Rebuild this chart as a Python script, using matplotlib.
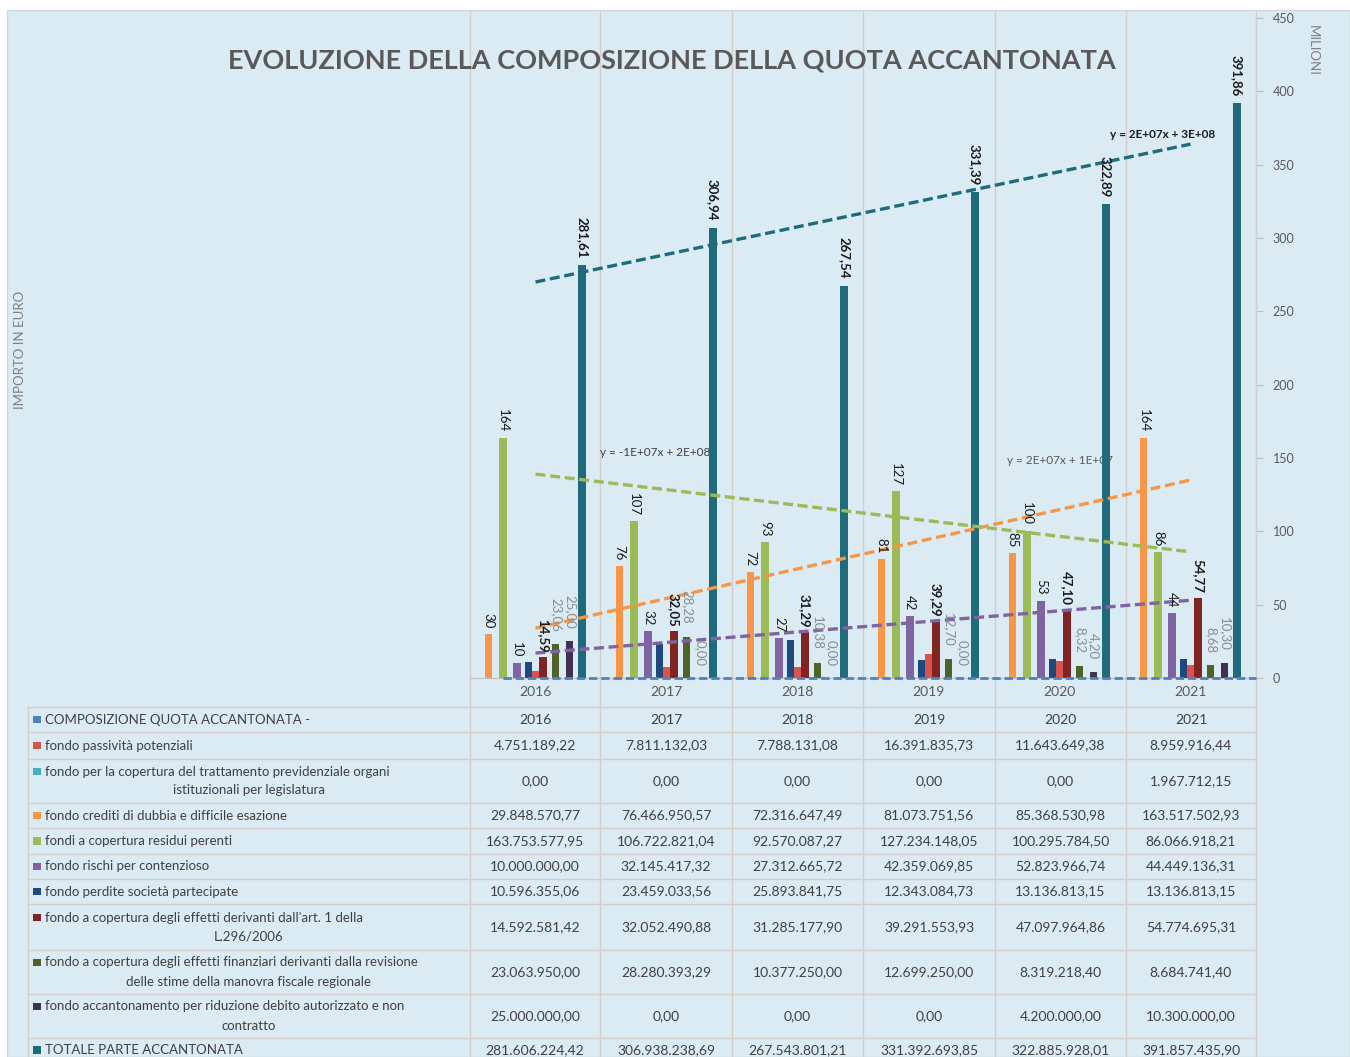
#!/usr/bin/env python3
"""Evoluzione della composizione della quota accantonata: Excel-style bars + data table."""
import matplotlib
matplotlib.use("Agg")
import matplotlib.pyplot as plt
from matplotlib.patches import Rectangle

plt.rcParams["font.family"] = ["Lato", "DejaVu Sans"]

W, H = 1350, 1057

YEARS = ["2016", "2017", "2018", "2019", "2020", "2021"]
PASSIVITA = [4751189.22, 7811132.03, 7788131.08, 16391835.73, 11643649.38, 8959916.44]
PREVIDENZIALE = [0.0, 0.0, 0.0, 0.0, 0.0, 1967712.15]
CREDITI = [29848570.77, 76466950.57, 72316647.49, 81073751.56, 85368530.98, 163517502.93]
RESIDUI = [163753577.95, 106722821.04, 92570087.27, 127234148.05, 100295784.50, 86066918.21]
RISCHI = [10000000.00, 32145417.32, 27312665.72, 42359069.85, 52823966.74, 44449136.31]
PERDITE = [10596355.06, 23459033.56, 25893841.75, 12343084.73, 13136813.15, 13136813.15]
ART1 = [14592581.42, 32052490.88, 31285177.90, 39291553.93, 47097964.86, 54774695.31]
REVISIONE = [23063950.00, 28280393.29, 10377250.00, 12699250.00, 8319218.40, 8684741.40]
DEBITO = [25000000.00, 0.0, 0.0, 0.0, 4200000.00, 10300000.00]
TOTALE = [281606224.42, 306938238.69, 267543801.21, 331392693.85, 322885928.01, 391857435.90]

# linear trendlines as shown on the chart (millions, at 2016 and at 2021)
TREND_TOTALE = [270, 364]
TREND_RESIDUI = [139, 86]
TREND_CREDITI = [34, 135]
TREND_RISCHI = [17, 53]
TREND_PREVID = [0, 0]

C_BLUE, C_RED, C_CYAN = "#4f81bd", "#d9534f", "#4bacc6"
C_ORANGE, C_GREEN, C_PURPLE = "#f79646", "#9bbb59", "#8064a2"
C_NAVY, C_DRED, C_OLIVE = "#1f497d", "#7f2323", "#4f6228"
C_DPURP, C_TEAL = "#3f3151", "#1f6b7c"
GRID = "#d6cccc"
TXT = "#404040"


def it_num(v):
    return f"{v:,.2f}".replace(",", "X").replace(".", ",").replace("X", ".")


def lab_int(v):
    return f"{round(v)}"


def lab_dec(v):
    return f"{v:.2f}".replace(".", ",")


fig = plt.figure(figsize=(W / 100, H / 100), dpi=100)
fig.patch.set_facecolor("white")

bg = fig.add_axes([0, 0, 1, 1], zorder=0)
bg.set_xlim(0, W); bg.set_ylim(H, 0); bg.axis("off")
bg.add_patch(Rectangle((7, 10), W - 7, H - 10, facecolor="#daebf3", edgecolor="#cfd8dc", lw=1))

# column borders (chart categories continue down into the table)
cols = [470, 600, 732, 863, 995, 1126, 1256]
for x in cols:
    bg.plot([x, x], [11, H], color=GRID, lw=1, zorder=1)
bg.plot([28, 28], [707, H], color=GRID, lw=1, zorder=1)
rows = [707, 732, 759, 803, 828, 854, 879, 904, 950, 994, 1038]
for y in rows:
    bg.plot([28, 1256], [y, y], color=GRID, lw=1, zorder=1)

bg.text(672, 60, "EVOLUZIONE DELLA COMPOSIZIONE DELLA QUOTA ACCANTONATA", ha="center",
        va="center", fontsize=19.5, fontweight="bold", color="#595959")
bg.text(20, 350, "IMPORTO IN EURO", rotation=90, ha="center", va="center", fontsize=9.5,
        color="#7f7f7f")
bg.text(1313, 50, "MILIONI", rotation=-90, ha="center", va="center", fontsize=9.5,
        color="#7f7f7f")

# trendline equations (behind the bars)
bg.text(600, 452, "y = -1E+07x + 2E+08", ha="left", va="center", fontsize=8.5, color="#404040",
        zorder=2)
bg.text(1007, 461, "y = 2E+07x + 1E+07", ha="left", va="center", fontsize=8.5, color="#595959",
        zorder=2)
bg.text(1110, 135, "y = 2E+07x + 3E+08", ha="left", va="center", fontsize=8.5,
        fontweight="bold", color="#1a1a1a", zorder=2)

# ---- data table ----
table = [
    ("COMPOSIZIONE QUOTA ACCANTONATA -", None, C_BLUE, None),
    ("fondo passività potenziali", None, C_RED, PASSIVITA),
    ("fondo per la copertura del trattamento previdenziale organi",
     "istituzionali per legislatura", C_CYAN, PREVIDENZIALE),
    ("fondo crediti di dubbia e difficile esazione", None, C_ORANGE, CREDITI),
    ("fondi a copertura residui perenti", None, C_GREEN, RESIDUI),
    ("fondo rischi per contenzioso", None, C_PURPLE, RISCHI),
    ("fondo perdite società partecipate", None, C_NAVY, PERDITE),
    ("fondo a copertura degli effetti derivanti dall'art. 1 della", "L.296/2006", C_DRED, ART1),
    ("fondo a copertura degli effetti finanziari derivanti dalla revisione",
     "delle stime della manovra fiscale regionale", C_OLIVE, REVISIONE),
    ("fondo accantonamento per riduzione debito autorizzato e non", "contratto", C_DPURP, DEBITO),
    ("TOTALE PARTE ACCANTONATA", None, C_TEAL, TOTALE),
]
bounds = rows + [1082]
for i, (l1, l2, col, vals) in enumerate(table):
    top, bot = bounds[i], bounds[i + 1]
    mid = (top + bot) / 2
    if i == len(table) - 1:
        mid = 1050
    y1 = mid if l2 is None else mid - 9.5
    bg.add_patch(Rectangle((33, y1 - 4), 7.5, 7.5, facecolor=col, edgecolor="none", zorder=3))
    bg.text(45, y1, l1, ha="left", va="center", fontsize=9.5, color=TXT, zorder=3)
    if l2 is not None:
        bg.text(249, mid + 9.5, l2, ha="center", va="center", fontsize=9.5, color=TXT, zorder=3)
    for j in range(6):
        cx = (cols[j] + cols[j + 1]) / 2
        s = YEARS[j] if vals is None else it_num(vals[j])
        bg.text(cx, mid, s, ha="center", va="center", fontsize=10, color=TXT, zorder=3)

# ---- chart ----
ax = fig.add_axes([470 / W, (H - 678) / H, 786 / W, 660 / H], zorder=1)
ax.set_facecolor("none")
ax.set_xlim(-0.5, 5.5)
ax.set_ylim(0, 450)

bw = 0.054
series = [
    (CREDITI, C_ORANGE, -0.359, lab_int, dict(color="#1a1a1a"), 4),
    (RESIDUI, C_GREEN, -0.248, lab_int, dict(color="#1a1a1a"), 4),
    (RISCHI, C_PURPLE, -0.141, lab_int, dict(color="#1a1a1a"), 4),
    (PERDITE, C_NAVY, -0.050, None, None, 0),
    (PREVIDENZIALE, C_CYAN, 0.004, None, None, 0),
    (PASSIVITA, C_RED, 0.004, None, None, 0),
    (ART1, C_DRED, 0.057, lab_dec, dict(color="#1a1a1a", fontweight="bold"), 3),
    (REVISIONE, C_OLIVE, 0.156, lab_dec, dict(color="#8c8c8c"), 9),
    (DEBITO, C_DPURP, 0.263, lab_dec, dict(color="#8c8c8c"), 9),
    (TOTALE, C_TEAL, 0.355, lab_dec, dict(color="#1a1a1a", fontweight="bold"), 5),
]
for vals, col, off, fmt, style, gap in series:
    mil = [v / 1e6 for v in vals]
    xs = [i + off for i in range(6)]
    ax.bar(xs, mil, width=bw, color=col, zorder=2)
    if fmt is None:
        continue
    for x, v in zip(xs, mil):
        ax.annotate(fmt(v), (x, v), xytext=(0, gap), textcoords="offset points",
                    rotation=-90, ha="center", va="bottom", fontsize=9.5, zorder=5, **style)

for tr, col in [(TREND_RISCHI, C_PURPLE), (TREND_CREDITI, C_ORANGE),
                (TREND_RESIDUI, C_GREEN), (TREND_TOTALE, C_TEAL)]:
    ax.plot([0, 5], tr, color=col, lw=2.4, ls=(0, (3, 1.4)), zorder=4)
ax.plot([-0.25, 5.5], [TREND_PREVID[0], TREND_PREVID[1]], color=C_BLUE, lw=2.0,
        ls=(0, (3, 1.4)), zorder=4, clip_on=False)

ax.yaxis.tick_right()
ax.set_yticks(range(0, 451, 50))
ax.tick_params(axis="y", direction="out", length=5, color="#bfbfbf", labelcolor="#595959",
               labelsize=9, pad=7)
ax.set_xticks(range(6))
ax.set_xticklabels(YEARS)
ax.tick_params(axis="x", length=0, labelcolor="#595959", labelsize=10, pad=6)
for side in ("top", "left"):
    ax.spines[side].set_visible(False)
ax.spines["right"].set_color("#d0d0d0")
ax.spines["bottom"].set_color("#bfbfbf")

fig.savefig("out.png", dpi=100)
